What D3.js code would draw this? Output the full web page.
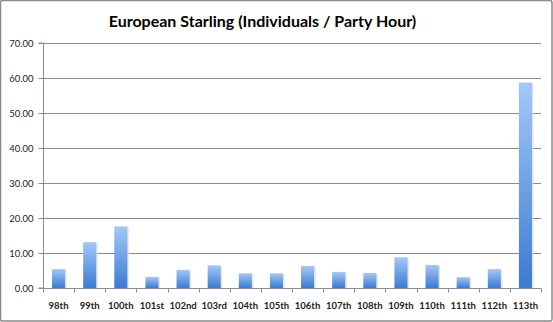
<!DOCTYPE html>
<html><head><meta charset="utf-8">
<script src="https://cdn.jsdelivr.net/npm/d3@7"></script>
<style>body{margin:0;background:#fff}svg{display:block}</style>
</head><body>
<script>
const categories = ["98th","99th","100th","101st","102nd","103rd","104th","105th","106th","107th","108th","109th","110th","111th","112th","113th"];
const values = [5.4,13.1,17.6,3.2,5.2,6.5,4.2,4.2,6.3,4.6,4.3,8.8,6.6,3.1,5.4,58.7];
const yTicks = [0,10,20,30,40,50,60,70];
const title = "European Starling (Individuals / Party Hour)";

const W = 553, H = 322;
const m = {left:43, right:12, top:43, bottom:34};
const svg = d3.select("body").append("svg").attr("width",W).attr("height",H);

const defs = svg.append("defs");
const g1 = defs.append("linearGradient").attr("id","barg").attr("x1",0).attr("x2",0).attr("y1",0).attr("y2",1);
g1.append("stop").attr("offset","0%").attr("stop-color","#a3c8fa");
g1.append("stop").attr("offset","100%").attr("stop-color","#3b7bd0");

svg.append("rect").attr("x",0.5).attr("y",0.5).attr("width",W-1.5).attr("height",H-1.5)
  .attr("rx",2).attr("fill","#fff").attr("stroke","#8a8a8a").attr("stroke-width",1.5);

const x = d3.scaleBand().domain(categories).range([m.left, W-m.right]).paddingInner(0.58).paddingOuter(0.29);
const y = d3.scaleLinear().domain([0,70]).range([H-m.bottom, m.top]);

svg.append("g").selectAll("line").data(yTicks.filter(d=>d>0)).join("line")
  .attr("x1",m.left).attr("x2",W-m.right).attr("y1",d=>Math.round(y(d))+0.5).attr("y2",d=>Math.round(y(d))+0.5)
  .attr("stroke","#8c8c8c").attr("stroke-width",1);

// bars with shadow
svg.append("g").selectAll("rect").data(values).join("rect")
  .attr("x",(d,i)=>x(categories[i])+1.5).attr("y",d=>y(d)+1).attr("width",x.bandwidth()).attr("height",d=>y(0)-y(d)-1)
  .attr("fill","#d8d8d8").attr("opacity",0.7);
svg.append("g").selectAll("rect").data(values).join("rect")
  .attr("x",(d,i)=>x(categories[i])).attr("y",d=>y(d)).attr("width",x.bandwidth()).attr("height",d=>y(0)-y(d))
  .attr("fill","url(#barg)");

const yAxis = d3.axisLeft(y).tickValues(yTicks).tickFormat(d3.format(".2f")).tickSize(5).tickPadding(5);
const ya = svg.append("g").attr("transform",`translate(${m.left+0.5},0)`).call(yAxis);
ya.selectAll("path,line").attr("stroke","#8c8c8c");
ya.select(".domain").attr("d",`M-5,${y(70)}H0V${y(0)}H-5`);
ya.selectAll("text").attr("font-family","Lato, 'Open Sans', sans-serif").attr("font-size","9.5px").attr("fill","#222");

const xa = svg.append("g").attr("transform",`translate(0,${Math.round(y(0))+0.5})`);
xa.append("line").attr("x1",m.left).attr("x2",W-m.right).attr("stroke","#8c8c8c");
const bounds = d3.range(categories.length+1).map(i=>m.left + i*(W-m.right-m.left)/categories.length);
xa.selectAll(".tk").data(bounds).join("line").attr("class","tk")
  .attr("x1",d=>Math.round(d)+0.5).attr("x2",d=>Math.round(d)+0.5).attr("y1",0).attr("y2",4).attr("stroke","#8c8c8c");
xa.selectAll("text").data(categories).join("text")
  .attr("x",d=>x(d)+x.bandwidth()/2).attr("y",20).attr("text-anchor","middle")
  .attr("font-family","Lato, 'Open Sans', sans-serif").attr("font-weight","bold").attr("font-size","9.5px").attr("fill","#222")
  .text(d=>d);

svg.append("text").attr("x",W/2-14).attr("y",27).attr("text-anchor","middle")
  .attr("font-family","Lato, 'Open Sans', sans-serif").attr("font-weight","bold").attr("font-size","16px").attr("fill","#000")
  .text(title);
</script>
</body></html>
